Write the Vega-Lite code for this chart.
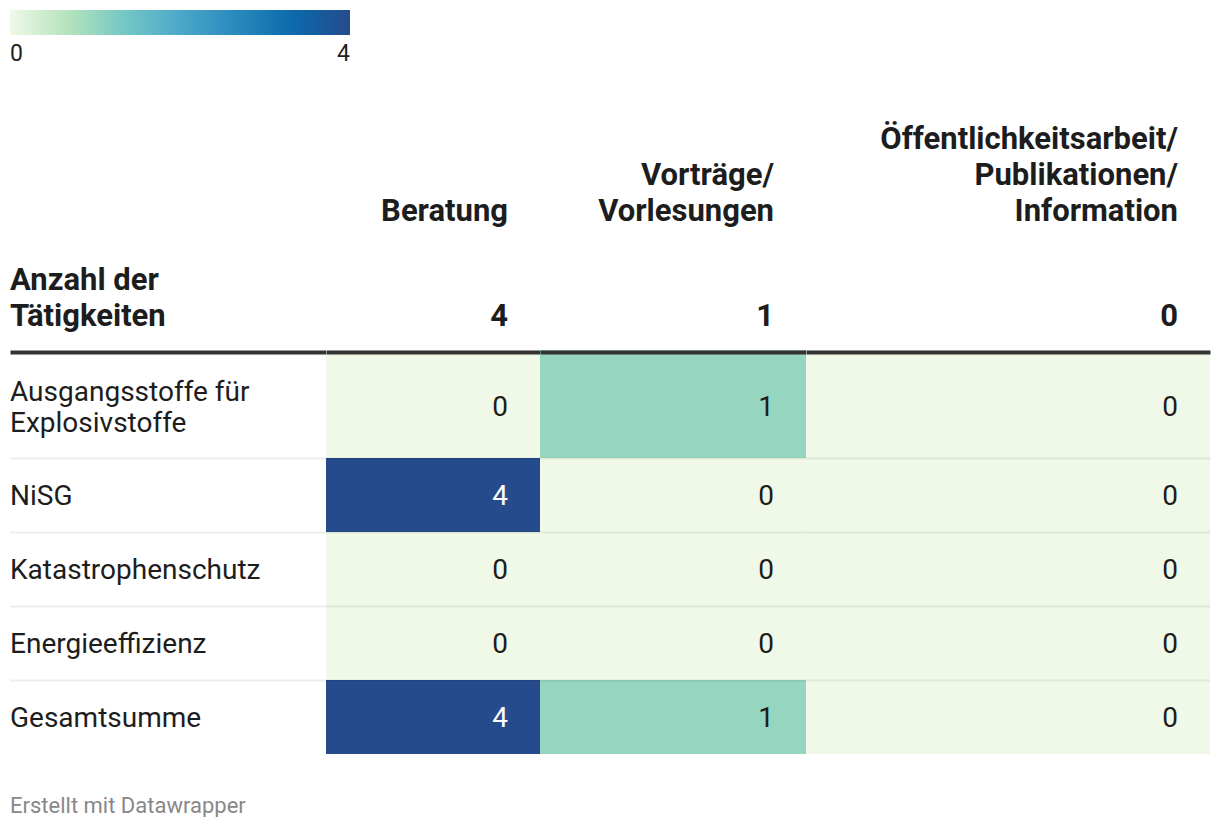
{
  "$schema": "https://vega.github.io/schema/vega-lite/v6.json",
  "padding": {"left": 10, "right": 10, "top": 0, "bottom": 0},
  "background": "#ffffff",
  "title": {"text": "Erstellt mit Datawrapper", "orient": "bottom", "anchor": "start", "fontSize": 22, "fontWeight": "normal", "color": "#888888", "font": "Roboto", "offset": 42},
  "datasets": {
    "cells": [
      {"category": "Ausgangsstoffe für\nExplosivstoffe", "activity": "Beratung", "value": 0},
      {"category": "Ausgangsstoffe für\nExplosivstoffe", "activity": "Vorträge/Vorlesungen", "value": 1},
      {"category": "Ausgangsstoffe für\nExplosivstoffe", "activity": "Öffentlichkeitsarbeit/Publikationen/Information", "value": 0},
      {"category": "NiSG", "activity": "Beratung", "value": 4},
      {"category": "NiSG", "activity": "Vorträge/Vorlesungen", "value": 0},
      {"category": "NiSG", "activity": "Öffentlichkeitsarbeit/Publikationen/Information", "value": 0},
      {"category": "Katastrophenschutz", "activity": "Beratung", "value": 0},
      {"category": "Katastrophenschutz", "activity": "Vorträge/Vorlesungen", "value": 0},
      {"category": "Katastrophenschutz", "activity": "Öffentlichkeitsarbeit/Publikationen/Information", "value": 0},
      {"category": "Energieeffizienz", "activity": "Beratung", "value": 0},
      {"category": "Energieeffizienz", "activity": "Vorträge/Vorlesungen", "value": 0},
      {"category": "Energieeffizienz", "activity": "Öffentlichkeitsarbeit/Publikationen/Information", "value": 0},
      {"category": "Gesamtsumme", "activity": "Beratung", "value": 4},
      {"category": "Gesamtsumme", "activity": "Vorträge/Vorlesungen", "value": 1},
      {"category": "Gesamtsumme", "activity": "Öffentlichkeitsarbeit/Publikationen/Information", "value": 0}
    ],
    "head": [
      {"col": "label", "part": "total", "label": "Anzahl der\nTätigkeiten"},
      {"col": "Beratung", "part": "name", "label": "Beratung"},
      {"col": "Beratung", "part": "total", "label": "4"},
      {"col": "Vorträge/Vorlesungen", "part": "name", "label": "Vorträge/\nVorlesungen"},
      {"col": "Vorträge/Vorlesungen", "part": "total", "label": "1"},
      {"col": "Öffentlichkeitsarbeit/Publikationen/Information", "part": "name", "label": "Öffentlichkeitsarbeit/\nPublikationen/\nInformation"},
      {"col": "Öffentlichkeitsarbeit/Publikationen/Information", "part": "total", "label": "0"}
    ]
  },
  "spacing": 0,
  "vconcat": [
    {
      "spacing": 0,
      "hconcat": [
        {
          "width": 316, "height": 350,
          "data": {"name": "head"},
          "transform": [{"filter": {"field": "col", "equal": "label"}}],
          "mark": {"type": "text", "align": "left", "baseline": "bottom", "dy": -53.5, "fontSize": 31, "fontWeight": "bold", "lineHeight": 36, "lineBreak": "\n", "fill": "#1d1d1d"},
          "encoding": {
            "x": {"field": "col", "type": "nominal", "bandPosition": 0, "scale": {"type": "band"}, "axis": null},
            "y": {"field": "part", "type": "nominal", "bandPosition": 1, "axis": null, "scale": {"type": "band", "domain": ["legend", "name", "total"]}},
            "text": {"field": "label"}
          }
        },
        {
          "width": 214, "height": 350,
          "data": {"name": "head"},
          "transform": [{"filter": {"field": "col", "equal": "Beratung"}}],
          "encoding": {
            "x": {"field": "col", "type": "nominal", "bandPosition": 1, "scale": {"type": "band"}, "axis": null},
            "y": {"field": "part", "type": "nominal", "bandPosition": 1, "axis": null, "scale": {"type": "band", "domain": ["legend", "name", "total"]}},
            "text": {"field": "label"}
          },
          "layer": [
            {"transform": [{"filter": {"field": "part", "equal": "name"}}], "mark": {"type": "text", "align": "right", "baseline": "bottom", "dx": -32, "dy": -5.8, "fontSize": 31, "fontWeight": "bold", "lineHeight": 36, "lineBreak": "\n", "fill": "#1d1d1d"}},
            {"transform": [{"filter": {"field": "part", "equal": "total"}}], "mark": {"type": "text", "align": "right", "baseline": "bottom", "dx": -32, "dy": -17.5, "fontSize": 31, "fontWeight": "bold", "lineHeight": 36, "lineBreak": "\n", "fill": "#1d1d1d"}}
          ]
        },
        {
          "width": 266, "height": 350,
          "data": {"name": "head"},
          "transform": [{"filter": {"field": "col", "equal": "Vorträge/Vorlesungen"}}],
          "encoding": {
            "x": {"field": "col", "type": "nominal", "bandPosition": 1, "scale": {"type": "band"}, "axis": null},
            "y": {"field": "part", "type": "nominal", "bandPosition": 1, "axis": null, "scale": {"type": "band", "domain": ["legend", "name", "total"]}},
            "text": {"field": "label"}
          },
          "layer": [
            {"transform": [{"filter": {"field": "part", "equal": "name"}}], "mark": {"type": "text", "align": "right", "baseline": "bottom", "dx": -32, "dy": -41.8, "fontSize": 31, "fontWeight": "bold", "lineHeight": 36, "lineBreak": "\n", "fill": "#1d1d1d"}},
            {"transform": [{"filter": {"field": "part", "equal": "total"}}], "mark": {"type": "text", "align": "right", "baseline": "bottom", "dx": -32, "dy": -17.5, "fontSize": 31, "fontWeight": "bold", "lineHeight": 36, "lineBreak": "\n", "fill": "#1d1d1d"}}
          ]
        },
        {
          "width": 404, "height": 350,
          "data": {"name": "head"},
          "transform": [{"filter": {"field": "col", "equal": "Öffentlichkeitsarbeit/Publikationen/Information"}}],
          "encoding": {
            "x": {"field": "col", "type": "nominal", "bandPosition": 1, "scale": {"type": "band"}, "axis": null},
            "y": {"field": "part", "type": "nominal", "bandPosition": 1, "axis": null, "scale": {"type": "band", "domain": ["legend", "name", "total"]}},
            "text": {"field": "label"}
          },
          "layer": [
            {"transform": [{"filter": {"field": "part", "equal": "name"}}], "mark": {"type": "text", "align": "right", "baseline": "bottom", "dx": -32, "dy": -77.8, "fontSize": 31, "fontWeight": "bold", "lineHeight": 36, "lineBreak": "\n", "fill": "#1d1d1d"}},
            {"transform": [{"filter": {"field": "part", "equal": "total"}}], "mark": {"type": "text", "align": "right", "baseline": "bottom", "dx": -32, "dy": -17.5, "fontSize": 31, "fontWeight": "bold", "lineHeight": 36, "lineBreak": "\n", "fill": "#1d1d1d"}}
          ]
        }
      ]
    },
    {
      "spacing": 0,
      "hconcat": [
        {
          "width": 316, "height": 108,
          "data": {"name": "cells"},
          "transform": [{"filter": {"field": "activity", "equal": "Beratung"}}, {"filter": {"field": "category", "equal": "Ausgangsstoffe für\nExplosivstoffe"}}],
          "mark": {"type": "text", "align": "left", "baseline": "middle", "dy": -11.5, "fontSize": 28, "lineHeight": 31, "lineBreak": "\n", "fill": "#1d1d1d"},
          "encoding": {
            "x": {"field": "activity", "type": "nominal", "bandPosition": 0, "scale": {"type": "band"}, "axis": {"orient": "top", "labels": false, "ticks": false, "title": null, "grid": false, "domainWidth": 4, "domainColor": "#333333", "offset": -2, "zindex": 1}},
            "y": {"field": "category", "type": "nominal", "scale": {"type": "band"}, "axis": null},
            "text": {"field": "category"}
          }
        },
        {
          "width": 214, "height": 108,
          "data": {"name": "cells"},
          "transform": [{"filter": {"field": "activity", "equal": "Beratung"}}, {"filter": {"field": "category", "equal": "Ausgangsstoffe für\nExplosivstoffe"}}],
          "encoding": {
            "x": {"field": "activity", "type": "nominal", "scale": {"type": "band"}, "axis": {"orient": "top", "labels": false, "ticks": false, "title": null, "grid": false, "domainWidth": 4, "domainColor": "#333333", "offset": -2, "zindex": 1}},
            "y": {"field": "category", "type": "nominal", "scale": {"type": "band"}, "axis": null}
          },
          "layer": [
            {"mark": {"type": "rect"}, "encoding": {"color": {"field": "value", "type": "quantitative", "scale": {"type": "linear", "domain": [0, 0.6667, 1.3333, 2, 2.6667, 3.3333, 4], "range": ["#f0f9e8", "#b6e3bb", "#75c8c5", "#4ba8c9", "#2989bd", "#0a6aad", "#254b8c"], "interpolate": "rgb"}, "legend": {"orient": "none", "legendX": 0, "legendY": 10, "direction": "horizontal", "title": null, "values": [0, 4], "format": "d", "labelFontSize": 23, "labelOffset": 8, "labelColor": "#222222", "labelFont": "Roboto"}}}},
            {"mark": {"type": "text", "align": "right", "baseline": "middle", "dx": -32, "dy": 3.5, "fontSize": 28}, "encoding": {"x": {"field": "activity", "type": "nominal", "bandPosition": 1, "scale": {"type": "band"}, "axis": {"orient": "top", "labels": false, "ticks": false, "title": null, "grid": false, "domainWidth": 4, "domainColor": "#333333", "offset": -2, "zindex": 1}}, "text": {"field": "value", "type": "quantitative", "format": "d"}, "color": {"condition": {"test": "datum.value >= 3", "value": "#ffffff"}, "value": "#1d1d1d"}}}
          ]
        },
        {
          "width": 266, "height": 108,
          "data": {"name": "cells"},
          "transform": [{"filter": {"field": "activity", "equal": "Vorträge/Vorlesungen"}}, {"filter": {"field": "category", "equal": "Ausgangsstoffe für\nExplosivstoffe"}}],
          "encoding": {
            "x": {"field": "activity", "type": "nominal", "scale": {"type": "band"}, "axis": {"orient": "top", "labels": false, "ticks": false, "title": null, "grid": false, "domainWidth": 4, "domainColor": "#333333", "offset": -2, "zindex": 1}},
            "y": {"field": "category", "type": "nominal", "scale": {"type": "band"}, "axis": null}
          },
          "layer": [
            {"mark": {"type": "rect"}, "encoding": {"color": {"field": "value", "type": "quantitative", "scale": {"type": "linear", "domain": [0, 0.6667, 1.3333, 2, 2.6667, 3.3333, 4], "range": ["#f0f9e8", "#b6e3bb", "#75c8c5", "#4ba8c9", "#2989bd", "#0a6aad", "#254b8c"], "interpolate": "rgb"}, "legend": {"orient": "none", "legendX": 0, "legendY": 10, "direction": "horizontal", "title": null, "values": [0, 4], "format": "d", "labelFontSize": 23, "labelOffset": 8, "labelColor": "#222222", "labelFont": "Roboto"}}}},
            {"mark": {"type": "text", "align": "right", "baseline": "middle", "dx": -32, "dy": 3.5, "fontSize": 28}, "encoding": {"x": {"field": "activity", "type": "nominal", "bandPosition": 1, "scale": {"type": "band"}, "axis": {"orient": "top", "labels": false, "ticks": false, "title": null, "grid": false, "domainWidth": 4, "domainColor": "#333333", "offset": -2, "zindex": 1}}, "text": {"field": "value", "type": "quantitative", "format": "d"}, "color": {"condition": {"test": "datum.value >= 3", "value": "#ffffff"}, "value": "#1d1d1d"}}}
          ]
        },
        {
          "width": 404, "height": 108,
          "data": {"name": "cells"},
          "transform": [{"filter": {"field": "activity", "equal": "Öffentlichkeitsarbeit/Publikationen/Information"}}, {"filter": {"field": "category", "equal": "Ausgangsstoffe für\nExplosivstoffe"}}],
          "encoding": {
            "x": {"field": "activity", "type": "nominal", "scale": {"type": "band"}, "axis": {"orient": "top", "labels": false, "ticks": false, "title": null, "grid": false, "domainWidth": 4, "domainColor": "#333333", "offset": -2, "zindex": 1}},
            "y": {"field": "category", "type": "nominal", "scale": {"type": "band"}, "axis": null}
          },
          "layer": [
            {"mark": {"type": "rect"}, "encoding": {"color": {"field": "value", "type": "quantitative", "scale": {"type": "linear", "domain": [0, 0.6667, 1.3333, 2, 2.6667, 3.3333, 4], "range": ["#f0f9e8", "#b6e3bb", "#75c8c5", "#4ba8c9", "#2989bd", "#0a6aad", "#254b8c"], "interpolate": "rgb"}, "legend": {"orient": "none", "legendX": 0, "legendY": 10, "direction": "horizontal", "title": null, "values": [0, 4], "format": "d", "labelFontSize": 23, "labelOffset": 8, "labelColor": "#222222", "labelFont": "Roboto"}}}},
            {"mark": {"type": "text", "align": "right", "baseline": "middle", "dx": -32, "dy": 3.5, "fontSize": 28}, "encoding": {"x": {"field": "activity", "type": "nominal", "bandPosition": 1, "scale": {"type": "band"}, "axis": {"orient": "top", "labels": false, "ticks": false, "title": null, "grid": false, "domainWidth": 4, "domainColor": "#333333", "offset": -2, "zindex": 1}}, "text": {"field": "value", "type": "quantitative", "format": "d"}, "color": {"condition": {"test": "datum.value >= 3", "value": "#ffffff"}, "value": "#1d1d1d"}}}
          ]
        }
      ]
    },
    {
      "spacing": 0,
      "hconcat": [
        {
          "width": 316, "height": 296,
          "data": {"name": "cells"},
          "transform": [{"filter": {"field": "activity", "equal": "Beratung"}}, {"filter": {"field": "category", "oneOf": ["NiSG", "Katastrophenschutz", "Energieeffizienz", "Gesamtsumme"]}}],
          "mark": {"type": "text", "align": "left", "baseline": "middle", "dy": 2, "fontSize": 28, "lineHeight": 31, "lineBreak": "\n", "fill": "#1d1d1d"},
          "encoding": {
            "x": {"field": "activity", "type": "nominal", "bandPosition": 0, "scale": {"type": "band"}, "axis": null},
            "y": {"field": "category", "type": "nominal", "sort": ["NiSG", "Katastrophenschutz", "Energieeffizienz", "Gesamtsumme"], "scale": {"type": "band"}, "axis": {"labels": false, "ticks": false, "domain": false, "title": null, "grid": true, "bandPosition": 0, "gridColor": "#000000", "gridOpacity": 0.07, "gridWidth": 2, "zindex": 1}},
            "text": {"field": "category"}
          }
        },
        {
          "width": 214, "height": 296,
          "data": {"name": "cells"},
          "transform": [{"filter": {"field": "activity", "equal": "Beratung"}}, {"filter": {"field": "category", "oneOf": ["NiSG", "Katastrophenschutz", "Energieeffizienz", "Gesamtsumme"]}}],
          "encoding": {
            "x": {"field": "activity", "type": "nominal", "scale": {"type": "band"}, "axis": null},
            "y": {"field": "category", "type": "nominal", "sort": ["NiSG", "Katastrophenschutz", "Energieeffizienz", "Gesamtsumme"], "scale": {"type": "band"}, "axis": {"labels": false, "ticks": false, "domain": false, "title": null, "grid": true, "bandPosition": 0, "gridColor": "#000000", "gridOpacity": 0.07, "gridWidth": 2, "zindex": 1}}
          },
          "layer": [
            {"mark": {"type": "rect"}, "encoding": {"color": {"field": "value", "type": "quantitative", "scale": {"type": "linear", "domain": [0, 0.6667, 1.3333, 2, 2.6667, 3.3333, 4], "range": ["#f0f9e8", "#b6e3bb", "#75c8c5", "#4ba8c9", "#2989bd", "#0a6aad", "#254b8c"], "interpolate": "rgb"}, "legend": {"orient": "none", "legendX": 0, "legendY": 10, "direction": "horizontal", "title": null, "values": [0, 4], "format": "d", "labelFontSize": 23, "labelOffset": 8, "labelColor": "#222222", "labelFont": "Roboto"}}}},
            {"mark": {"type": "text", "align": "right", "baseline": "middle", "dx": -32, "dy": 2, "fontSize": 28}, "encoding": {"x": {"field": "activity", "type": "nominal", "bandPosition": 1, "scale": {"type": "band"}, "axis": null}, "text": {"field": "value", "type": "quantitative", "format": "d"}, "color": {"condition": {"test": "datum.value >= 3", "value": "#ffffff"}, "value": "#1d1d1d"}}}
          ]
        },
        {
          "width": 266, "height": 296,
          "data": {"name": "cells"},
          "transform": [{"filter": {"field": "activity", "equal": "Vorträge/Vorlesungen"}}, {"filter": {"field": "category", "oneOf": ["NiSG", "Katastrophenschutz", "Energieeffizienz", "Gesamtsumme"]}}],
          "encoding": {
            "x": {"field": "activity", "type": "nominal", "scale": {"type": "band"}, "axis": null},
            "y": {"field": "category", "type": "nominal", "sort": ["NiSG", "Katastrophenschutz", "Energieeffizienz", "Gesamtsumme"], "scale": {"type": "band"}, "axis": {"labels": false, "ticks": false, "domain": false, "title": null, "grid": true, "bandPosition": 0, "gridColor": "#000000", "gridOpacity": 0.07, "gridWidth": 2, "zindex": 1}}
          },
          "layer": [
            {"mark": {"type": "rect"}, "encoding": {"color": {"field": "value", "type": "quantitative", "scale": {"type": "linear", "domain": [0, 0.6667, 1.3333, 2, 2.6667, 3.3333, 4], "range": ["#f0f9e8", "#b6e3bb", "#75c8c5", "#4ba8c9", "#2989bd", "#0a6aad", "#254b8c"], "interpolate": "rgb"}, "legend": {"orient": "none", "legendX": 0, "legendY": 10, "direction": "horizontal", "title": null, "values": [0, 4], "format": "d", "labelFontSize": 23, "labelOffset": 8, "labelColor": "#222222", "labelFont": "Roboto"}}}},
            {"mark": {"type": "text", "align": "right", "baseline": "middle", "dx": -32, "dy": 2, "fontSize": 28}, "encoding": {"x": {"field": "activity", "type": "nominal", "bandPosition": 1, "scale": {"type": "band"}, "axis": null}, "text": {"field": "value", "type": "quantitative", "format": "d"}, "color": {"condition": {"test": "datum.value >= 3", "value": "#ffffff"}, "value": "#1d1d1d"}}}
          ]
        },
        {
          "width": 404, "height": 296,
          "data": {"name": "cells"},
          "transform": [{"filter": {"field": "activity", "equal": "Öffentlichkeitsarbeit/Publikationen/Information"}}, {"filter": {"field": "category", "oneOf": ["NiSG", "Katastrophenschutz", "Energieeffizienz", "Gesamtsumme"]}}],
          "encoding": {
            "x": {"field": "activity", "type": "nominal", "scale": {"type": "band"}, "axis": null},
            "y": {"field": "category", "type": "nominal", "sort": ["NiSG", "Katastrophenschutz", "Energieeffizienz", "Gesamtsumme"], "scale": {"type": "band"}, "axis": {"labels": false, "ticks": false, "domain": false, "title": null, "grid": true, "bandPosition": 0, "gridColor": "#000000", "gridOpacity": 0.07, "gridWidth": 2, "zindex": 1}}
          },
          "layer": [
            {"mark": {"type": "rect"}, "encoding": {"color": {"field": "value", "type": "quantitative", "scale": {"type": "linear", "domain": [0, 0.6667, 1.3333, 2, 2.6667, 3.3333, 4], "range": ["#f0f9e8", "#b6e3bb", "#75c8c5", "#4ba8c9", "#2989bd", "#0a6aad", "#254b8c"], "interpolate": "rgb"}, "legend": {"orient": "none", "legendX": 0, "legendY": 10, "direction": "horizontal", "title": null, "values": [0, 4], "format": "d", "labelFontSize": 23, "labelOffset": 8, "labelColor": "#222222", "labelFont": "Roboto"}}}},
            {"mark": {"type": "text", "align": "right", "baseline": "middle", "dx": -32, "dy": 2, "fontSize": 28}, "encoding": {"x": {"field": "activity", "type": "nominal", "bandPosition": 1, "scale": {"type": "band"}, "axis": null}, "text": {"field": "value", "type": "quantitative", "format": "d"}, "color": {"condition": {"test": "datum.value >= 3", "value": "#ffffff"}, "value": "#1d1d1d"}}}
          ]
        }
      ]
    }
  ],
  "config": {
    "font": "Roboto",
    "view": {"stroke": null},
    "scale": {"bandPaddingInner": 0, "bandPaddingOuter": 0},
    "text": {"font": "Roboto"},
    "legend": {"gradientLength": 340, "gradientThickness": 25, "labelFontSize": 23, "labelFont": "Roboto", "labelColor": "#222222", "gradientStrokeWidth": 0, "labelOffset": 8, "gradientLabelOffset": 8}
  }
}
